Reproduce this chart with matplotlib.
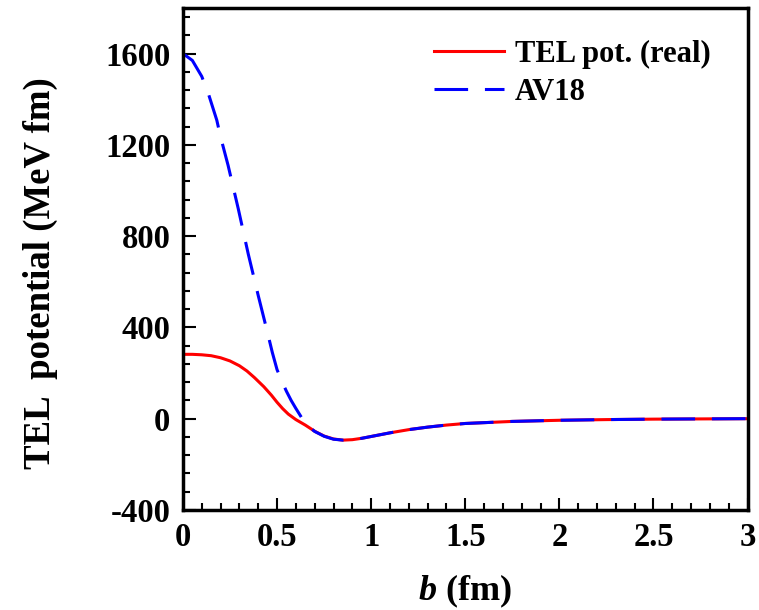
import numpy as np
import matplotlib
matplotlib.use('Agg')
import matplotlib.pyplot as plt

plt.rcParams['font.family'] = 'Liberation Serif'
plt.rcParams['font.weight'] = 'bold'
plt.rcParams['axes.labelweight'] = 'bold'
plt.rcParams['axes.unicode_minus'] = False
plt.rcParams['mathtext.fontset'] = 'custom'
plt.rcParams['mathtext.rm'] = 'Liberation Serif:bold'
plt.rcParams['mathtext.bfit'] = 'Liberation Serif:italic:bold'

# values
b_tel = [0, 0.05, 0.1, 0.15, 0.2, 0.25, 0.3, 0.34, 0.38, 0.43, 0.47, 0.5, 0.53, 0.56,
         0.6, 0.65, 0.7, 0.75, 0.8, 0.85, 0.9, 0.95, 1.0, 1.1, 1.2, 1.3, 1.4, 1.5,
         1.75, 2.0, 2.25, 2.5, 2.75, 3.0]
v_tel = [282, 282, 280, 276, 267, 253, 232, 209, 180, 140, 103, 72, 44, 20,
         -4, -28, -55, -76, -89, -94, -92, -86, -78, -62, -48, -37, -28, -21,
         -12, -7, -4, -2, -1, 0]

b_av18 = [0, 0.05, 0.1, 0.135, 0.18, 0.2, 0.24, 0.294, 0.347, 0.4, 0.45, 0.475, 0.5,
          0.525, 0.55, 0.575, 0.6, 0.625, 0.65, 0.7, 0.75, 0.8, 0.85, 0.9, 0.95, 1.0,
          1.1, 1.2, 1.3, 1.4, 1.5, 1.75, 2.0, 2.25, 2.5, 2.75, 3.0]
v_av18 = [1600, 1570, 1500, 1425, 1308, 1235, 1110, 920, 722, 540, 375, 290, 215,
          165, 120, 80, 45, 12, -22, -56, -77, -90, -94, -92, -86, -78,
          -62, -48, -37, -28, -21, -12, -7, -4, -2, -1, 0]

fig = plt.figure(figsize=(7.59, 6.10), dpi=100)
ax = fig.add_axes([0.241, 0.164, 0.744, 0.823])

ax.plot(b_tel, v_tel, color='#ff0000', lw=2.2, label='TEL pot. (real)')
ax.plot(b_av18, v_av18, color='#0000ff', lw=2.2, ls=(0, (11, 5.5)), label='AV18')

ax.set_xlim(0, 3)
ax.set_ylim(-400, 1800)
ax.set_xticks([0, 0.5, 1, 1.5, 2, 2.5, 3])
ax.set_xticklabels(['0', '0.5', '1', '1.5', '2', '2.5', '3'])
ax.set_yticks([-400, 0, 400, 800, 1200, 1600])
ax.set_xticks(np.arange(0, 3.01, 0.1), minor=True)
ax.set_yticks(np.arange(-400, 1801, 80), minor=True)
ax.tick_params(which='both', direction='in', top=False, right=False, width=1.5)
ax.tick_params(which='major', length=9, labelsize=23.5, pad=9)
ax.tick_params(which='minor', length=5)
for s in ax.spines.values():
    s.set_linewidth(2.5)

ax.set_xlabel(r'$\mathbfit{b}$ (fm)', fontsize=26, labelpad=14)
ax.set_ylabel('TEL  potential (MeV fm)', fontsize=26.5)
ax.yaxis.set_label_coords(-0.222, 0.472)

ax.legend(loc='upper right', bbox_to_anchor=(0.983, 0.991), frameon=False,
          fontsize=22, handlelength=2.3, handletextpad=0.35, labelspacing=0.3)

fig.savefig('out.png', dpi=100)
